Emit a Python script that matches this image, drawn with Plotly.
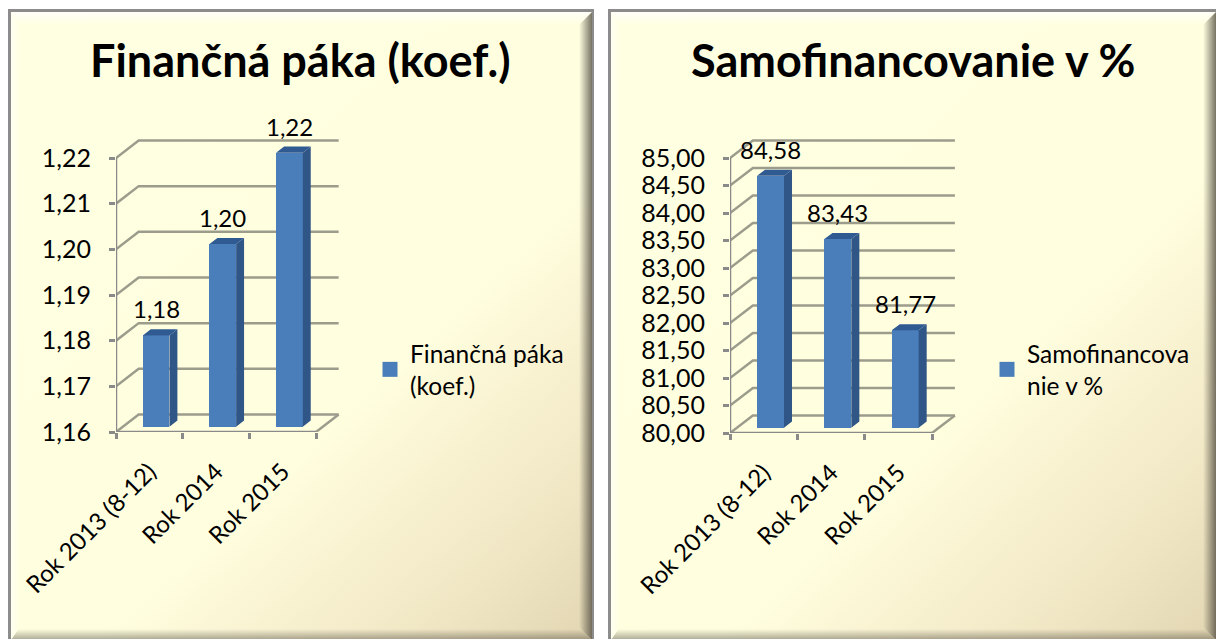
import base64
import plotly.graph_objects as go

W, H = 1216, 639

# ---- data ----
categories = ["Rok 2013 (8-12)", "Rok 2014", "Rok 2015"]
fin_title = "Finančná páka (koef.)"
fin_legend = "Finančná páka<br>(koef.)"
fin_values = [1.18, 1.20, 1.22]
fin_ticks = [1.16, 1.17, 1.18, 1.19, 1.20, 1.21, 1.22]
sam_title = "Samofinancovanie v %"
sam_legend = "Samofinancova<br>nie v %"
sam_values = [84.58, 83.43, 81.77]
sam_ticks = [80.0, 80.5, 81.0, 81.5, 82.0, 82.5, 83.0, 83.5, 84.0, 84.5, 85.0]

FONT = "Lato, Carlito, sans-serif"
TXT = "#000000"
AXIS = "#8a8a8a"
GRID = "#9c9c8c"
FRONT = "#4a7ebb"
SIDE = "#2f5687"
TOP = "#305a92"


def svg_background():
    def panel(x0, y0, x1, y1, gid):
        ix0, iy0, ix1, iy1 = x0 + 3, y0 + 3, x1 - 2, y1
        b = 13
        return f'''
<defs>
<linearGradient id="{gid}b" gradientUnits="userSpaceOnUse" x1="{x0}" y1="{y0}" x2="{x1}" y2="{y1}">
<stop offset="0" stop-color="#ffffe2"/><stop offset="0.6" stop-color="#ffffdf"/>
<stop offset="0.72" stop-color="#f9f3d2"/><stop offset="0.87" stop-color="#efe5c3"/>
<stop offset="1" stop-color="#e2d6b2"/></linearGradient>
<linearGradient id="{gid}t" gradientUnits="userSpaceOnUse" x1="0" y1="{iy0}" x2="0" y2="{iy0+b}">
<stop offset="0" stop-color="#ffffff" stop-opacity=".75"/><stop offset="1" stop-color="#ffffff" stop-opacity="0"/></linearGradient>
<linearGradient id="{gid}l" gradientUnits="userSpaceOnUse" x1="{ix0}" y1="0" x2="{ix0+b-4}" y2="0">
<stop offset="0" stop-color="#ffffff" stop-opacity=".55"/><stop offset="1" stop-color="#ffffff" stop-opacity="0"/></linearGradient>
<linearGradient id="{gid}r" gradientUnits="userSpaceOnUse" x1="{ix1-b}" y1="0" x2="{ix1}" y2="0">
<stop offset="0" stop-color="#555045" stop-opacity="0"/><stop offset="1" stop-color="#555045" stop-opacity=".8"/></linearGradient>
<linearGradient id="{gid}d" gradientUnits="userSpaceOnUse" x1="0" y1="{iy1-b+2}" x2="0" y2="{iy1}">
<stop offset="0" stop-color="#555045" stop-opacity="0"/><stop offset="1" stop-color="#555045" stop-opacity=".5"/></linearGradient>
</defs>
<rect x="{x0}" y="{y0}" width="{x1-x0}" height="{y1-y0}" fill="#8c8c8c"/>
<rect x="{ix0}" y="{iy0}" width="{ix1-ix0}" height="{iy1-iy0}" fill="url(#{gid}b)"/>
<polygon points="{ix0},{iy0} {ix1},{iy0} {ix1-b},{iy0+b} {ix0+b-4},{iy0+b}" fill="url(#{gid}t)"/>
<polygon points="{ix0},{iy0} {ix0+b-4},{iy0+b} {ix0+b-4},{iy1-b} {ix0},{iy1}" fill="url(#{gid}l)"/>
<polygon points="{ix1},{iy0} {ix1-b},{iy0+b} {ix1-b},{iy1-b} {ix1},{iy1}" fill="url(#{gid}r)"/>
<polygon points="{ix0},{iy1} {ix0+b-4},{iy1-b} {ix1-b},{iy1-b} {ix1},{iy1}" fill="url(#{gid}d)"/>
'''
    svg = (f'<svg xmlns="http://www.w3.org/2000/svg" width="{W}" height="{H}" viewBox="0 0 {W} {H}">'
           f'<rect width="{W}" height="{H}" fill="#ffffff"/>'
           + panel(8, 9, 594, 640, "a") + panel(608, 9, 1218, 640, "c") + '</svg>')
    return "data:image/svg+xml;base64," + base64.b64encode(svg.encode()).decode()


fig = go.Figure()

panels = [
    dict(main=("x", "y"), over=("x3", "y3"), legend="legend", title=fin_title, lg=fin_legend,
         vals=fin_values, ticks=fin_ticks, xpx=(116, 316), ypx=(158, 432),
         title_x=300, lg_xy=(370, 331)),
    dict(main=("x2", "y2"), over=("x4", "y4"), legend="legend2", title=sam_title, lg=sam_legend,
         vals=sam_values, ticks=sam_ticks, xpx=(730, 932), ypx=(158, 433),
         title_x=913, lg_xy=(987, 331)),
]

DEPTH_X = 0.34       # wall depth in category units
DEPTH_Y_FRAC = 0.064  # wall depth as share of value range
BAR_W = 0.40
D_FRONT, D_BACK = 0.30, 0.65
LABEL_LIFT = 32
TOP_PAD_PX = 40      # headroom of the axes, for the receding walls
RIGHT_PAD_PX = 40

layout = dict(
    width=W, height=H, margin=dict(l=0, r=0, t=0, b=0, autoexpand=False), autosize=False,
    paper_bgcolor="#ffffff", plot_bgcolor="rgba(0,0,0,0)",
    separators=", ", font=dict(family=FONT, color=TXT, size=22),
    bargap=0, showlegend=True, annotations=[],
    images=[dict(source=svg_background(), xref="paper", yref="paper", x=0, y=1,
                 sizex=1, sizey=1, xanchor="left", yanchor="top", sizing="stretch",
                 layer="below")],
)


def axname(ref):
    return ref.replace("x", "xaxis").replace("y", "yaxis")


for p in panels:
    mx, my = p["main"]
    ox, oy = p["over"]
    n = len(categories)
    ymin, ymax = p["ticks"][0], p["ticks"][-1]
    dy = (ymax - ymin) * DEPTH_Y_FRAC
    xl, xr = -0.5, n - 0.5
    x_left, x_right = p["xpx"]
    y_top, y_bot = p["ypx"]
    xdom = [x_left / W, (x_right + RIGHT_PAD_PX) / W]
    ydom = [1 - y_bot / H, 1 - (y_top - TOP_PAD_PX) / H]
    xr_pad = xr + RIGHT_PAD_PX * (xr - xl) / (x_right - x_left)
    ymax_pad = ymax + TOP_PAD_PX * (ymax - ymin) / (y_bot - y_top)

    layout[axname(mx)] = dict(
        domain=xdom, range=[xl, xr_pad], anchor=my, tickvals=list(range(n)),
        ticktext=categories, tickangle=-45, ticks="", showgrid=False, zeroline=False,
        showline=False, ticklabelstandoff=20, tickfont=dict(size=24),
        minor=dict(tickvals=[xl + i for i in range(n + 1)], ticks="outside",
                   ticklen=6, tickwidth=2.5, tickcolor=AXIS),
    )
    layout[axname(my)] = dict(
        domain=ydom, range=[ymin, ymax_pad], anchor=mx, tickvals=p["ticks"], tickformat=".2f",
        ticks="outside", ticklen=6, tickwidth=2.5, tickcolor=AXIS, showgrid=False,
        zeroline=False, showline=False, tickfont=dict(size=25), ticklabelstandoff=13,
    )
    layout[axname(ox)] = dict(domain=xdom, range=[xl, xr_pad], anchor=oy, visible=False)
    layout[axname(oy)] = dict(domain=ydom, range=[ymin, ymax_pad], anchor=ox, visible=False)

    # walls and floor, built from the same tick values
    gx, gy = [], []
    for t in p["ticks"]:
        gx += [xl, xl + DEPTH_X, xr + DEPTH_X, None]
        gy += [t, t + dy, t + dy, None]
    gx += [xr, xr + DEPTH_X, None]
    gy += [ymin, ymin + dy, None]
    fig.add_trace(go.Scatter(x=gx, y=gy, xaxis=mx, yaxis=my, mode="lines",
                             line=dict(color=GRID, width=2.5), showlegend=False, hoverinfo="skip"))
    # front axis lines
    fig.add_trace(go.Scatter(x=[xl, xl, xr], y=[ymax, ymin, ymin], xaxis=mx, yaxis=my, mode="lines",
                             line=dict(color=AXIS, width=2.5), showlegend=False, hoverinfo="skip"))

    # bars: front face
    xs = [i + DEPTH_X * D_FRONT for i in range(len(p["vals"]))]
    base = ymin + dy * D_FRONT
    fig.add_trace(go.Bar(x=xs, y=[v - ymin for v in p["vals"]], base=base, width=BAR_W,
                         xaxis=ox, yaxis=oy, marker=dict(color=FRONT, line=dict(width=0)),
                         showlegend=False, name=p["title"]))

    # bars: side and top faces
    sx, sy, tx, ty = [], [], [], []
    ddx = DEPTH_X * (D_BACK - D_FRONT)
    ddy = dy * (D_BACK - D_FRONT)
    for x, v in zip(xs, p["vals"]):
        top = v + dy * D_FRONT
        r = x + BAR_W / 2
        l = x - BAR_W / 2
        sx += [r, r + ddx, r + ddx, r, r, None]
        sy += [base, base + ddy, top + ddy, top, base, None]
        tx += [l, r, r + ddx, l + ddx, l, None]
        ty += [top, top, top + ddy, top + ddy, top, None]
    for qx, qy, col in ((sx, sy, SIDE), (tx, ty, TOP)):
        fig.add_trace(go.Scatter(x=qx, y=qy, xaxis=ox, yaxis=oy, mode="lines", fill="toself",
                                 fillcolor=col, line=dict(width=0, color=col),
                                 showlegend=False, hoverinfo="skip"))

    # legend entry
    fig.add_trace(go.Scatter(x=[None], y=[None], xaxis=ox, yaxis=oy, mode="markers", name=p["lg"],
                             marker=dict(symbol="square", size=15, color=FRONT),
                             legend=p["legend"], showlegend=True))
    layout[p["legend"]] = dict(
        x=p["lg_xy"][0] / W, y=1 - p["lg_xy"][1] / H, xanchor="left", yanchor="top",
        bgcolor="rgba(0,0,0,0)", itemwidth=30, font=dict(family=FONT, size=24.5, color=TXT),
        itemclick=False, itemdoubleclick=False,
    )

    # value labels
    for x, v in zip(xs, p["vals"]):
        layout["annotations"].append(dict(
            x=x, y=v, xref=ox, yref=oy, yshift=LABEL_LIFT, showarrow=False,
            text=f"{v:.2f}".replace(".", ","), font=dict(family=FONT, size=24, color=TXT)))

    layout["annotations"].append(dict(
        x=p["title_x"] / W, y=1 - 60 / H, xref="paper", yref="paper", showarrow=False,
        xanchor="center", yanchor="middle",
        text=f"<b>{p['title']}</b>", font=dict(family=FONT, size=45, color=TXT)))

fig.update_layout(**layout)
fig.write_html("out.html", config=dict(displayModeBar=False),
               post_script="document.body.style.margin='0';document.documentElement.style.overflow='hidden';")
